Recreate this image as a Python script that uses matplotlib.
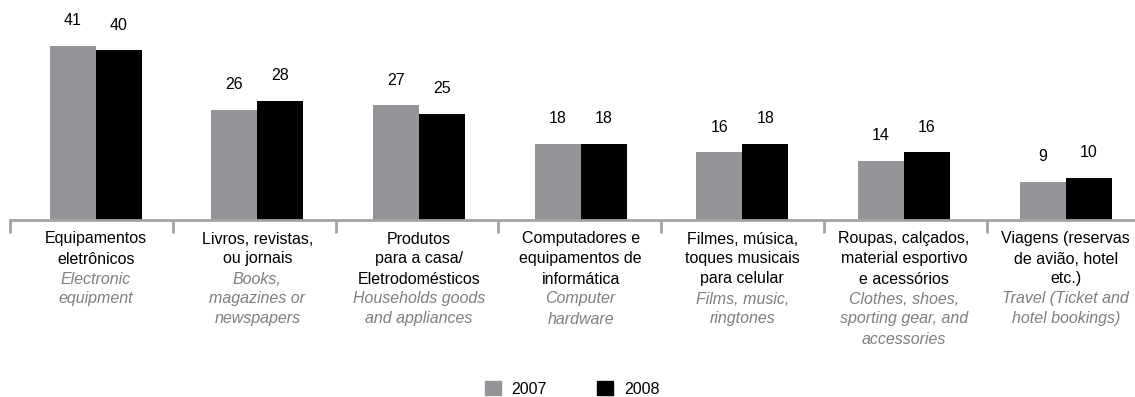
import numpy as np
import matplotlib.pyplot as plt
from matplotlib.patches import Patch

plt.rcParams['font.family'] = ['Liberation Sans', 'DejaVu Sans']

cats_pt = ["Equipamentos\neletrônicos",
           "Livros, revistas,\nou jornais",
           "Produtos\npara a casa/\nEletrodomésticos",
           "Computadores e\nequipamentos de\ninformática",
           "Filmes, música,\ntoques musicais\npara celular",
           "Roupas, calçados,\nmaterial esportivo\ne acessórios",
           "Viagens (reservas\nde avião, hotel\netc.)"]
cats_en = ["Electronic\nequipment",
           "Books,\nmagazines or\nnewspapers",
           "Households goods\nand appliances",
           "Computer\nhardware",
           "Films, music,\nringtones",
           "Clothes, shoes,\nsporting gear, and\naccessories",
           "Travel (Ticket and\nhotel bookings)"]
v2007 = [41, 26, 27, 18, 16, 14, 9]
v2008 = [40, 28, 25, 18, 18, 16, 10]

c07 = '#939598'
c08 = '#000000'
axis_c = '#a3a3a3'
en_c = '#7f7f7f'
fs = 11.5

fig = plt.figure(figsize=(11.35, 3.97), dpi=100)
ax = fig.add_axes([10/1135, 1 - 220/397, 1 - 10/1135, 220/397])

x = np.arange(len(v2007))
w = 0.284
ax.bar(x - w/2, v2007, w, color=c07)
ax.bar(x + w/2, v2008, w, color=c08)

for xi, a, b in zip(x, v2007, v2008):
    ax.annotate(str(a), (xi - w/2, a), xytext=(0, 25), textcoords='offset pixels',
                ha='center', va='center', fontsize=fs)
    ax.annotate(str(b), (xi + w/2, b), xytext=(0, 25), textcoords='offset pixels',
                ha='center', va='center', fontsize=fs)

# category labels, Portuguese in black and English in gray italic
for xi, pt, en in zip(x, cats_pt, cats_en):
    lines = [(s, 'black', 'normal') for s in pt.split('\n')] + \
            [(s, en_c, 'italic') for s in en.split('\n')]
    for k, (s, col, sty) in enumerate(lines):
        ax.annotate(s, (xi, 0), xycoords=('data', 'axes fraction'),
                    xytext=(0, -19 - 20 * k), textcoords='offset pixels',
                    ha='center', va='center', fontsize=fs, color=col, style=sty,
                    annotation_clip=False)

ax.set_xlim(-0.53, -0.53 + 1125 / 161.67)
ax.set_ylim(0, 220 / 4.25)
ax.set_xticks(x * 1.007 - 0.53)
ax.set_xticklabels([])
ax.tick_params(axis='x', length=9, width=2, color=axis_c, direction='out')
ax.set_yticks([])
for s in ['top', 'right', 'left']:
    ax.spines[s].set_visible(False)
ax.spines['bottom'].set_color(axis_c)
ax.spines['bottom'].set_linewidth(2)

handles = [Patch(color=c07, label='2007'), Patch(color=c08, label='2008')]
fig.legend(handles=handles, loc='center', bbox_to_anchor=(572/1135, 1 - 389/397),
           ncol=2, frameon=False, fontsize=fs, handlelength=1.0, handleheight=1.0,
           handletextpad=0.65, columnspacing=3.2)

fig.savefig('out.png', dpi=100)
